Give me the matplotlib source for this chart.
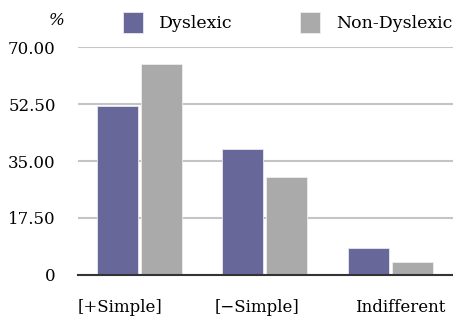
import numpy as np
import matplotlib
matplotlib.use("Agg")
from matplotlib import pyplot as plt

# dados
categorias = ["[+Simple]", "[\u2212Simple]", "Indifferent"]
dyslexic = [51.9, 38.7, 8.2]
non_dyslexic = [64.8, 30.1, 4.0]
yticks = [0, 17.5, 35.0, 52.5, 70.0]
ylabels = ["0", "17.50", "35.00", "52.50", "70.00"]

plt.rcParams["font.family"] = ["DejaVu Serif"]
plt.rcParams["font.size"] = 12

fig = plt.figure(figsize=(4.53, 3.22), dpi=100)
ax = fig.add_axes([0.172, 0.146, 0.828, 0.708])

x = np.arange(len(categorias))
w = 0.325
b1 = ax.bar(x - 0.175, dyslexic, w, color="#67679a", edgecolor="#e8e8f0", linewidth=0.6,
            label="Dyslexic", zorder=3)
b2 = ax.bar(x + 0.175, non_dyslexic, w, color="#aaaaaa", edgecolor="#eeeeee", linewidth=0.6,
            label="Non-Dyslexic", zorder=3)

ax.set_xlim(-0.49, 2.5)
ax.set_ylim(0, 70)
ax.set_yticks(yticks)
ax.set_yticklabels(ylabels)
# rotulos um pouco deslocados do centro do grupo, como no original
ax.set_xticks(x + np.array([-0.155, -0.064, 0.076]))
ax.set_xticklabels(categorias)
ax.tick_params(length=0)
ax.tick_params(axis="y", pad=16)
ax.tick_params(axis="x", pad=17)
ax.yaxis.grid(True, color="#c4c4c4", linewidth=1.5, zorder=0)
for s in ["top", "right", "left"]:
    ax.spines[s].set_visible(False)
ax.spines["bottom"].set_color("#333333")
ax.spines["bottom"].set_linewidth(1.5)
ax.spines["bottom"].set_zorder(4)

fig.text(0.143, 0.935, "%", ha="right", va="center", style="italic", fontsize=12)
fig.legend(handles=[b1, b2], loc="center left", bbox_to_anchor=(0.272, 0.93),
           ncol=2, frameon=False, handlelength=1.15, handleheight=1.5,
           columnspacing=3.9, handletextpad=0.9, borderaxespad=0, borderpad=0,
           fontsize=12.5)

fig.savefig("out.png", dpi=100)
